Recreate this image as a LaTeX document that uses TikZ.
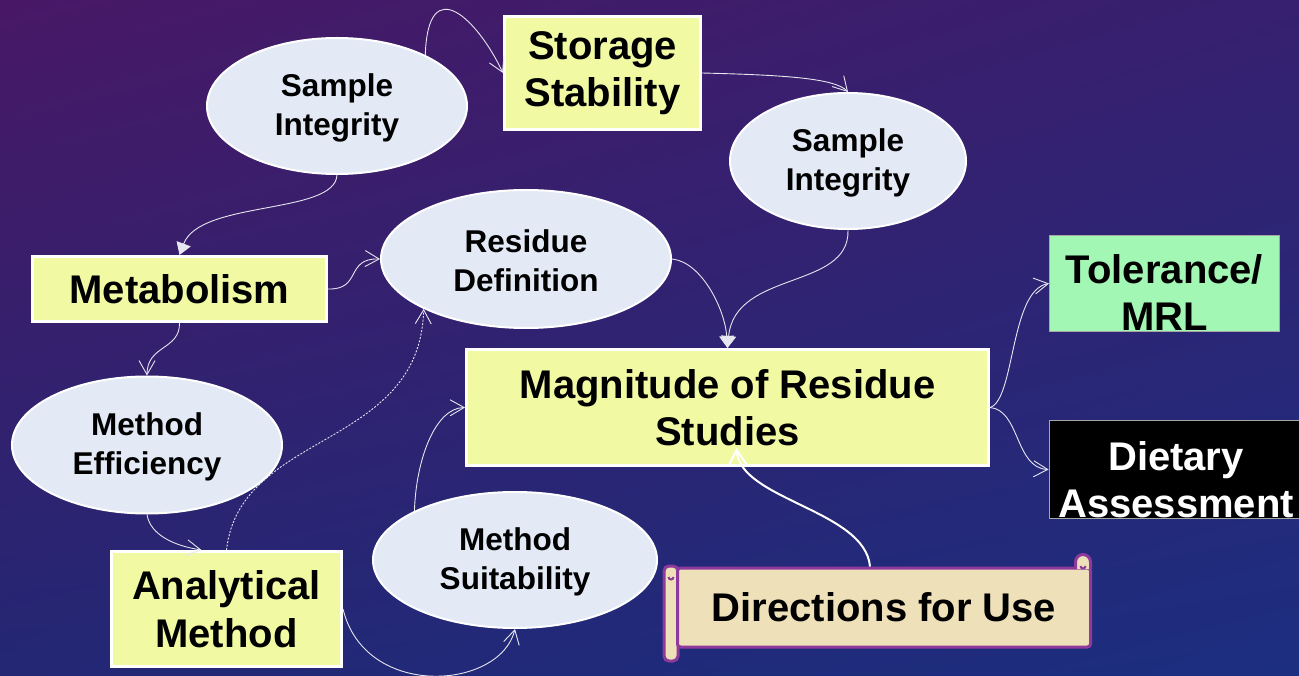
\documentclass[tikz,border=0pt]{standalone}
\usepackage{fontspec}
\setmainfont{Liberation Sans}
\usetikzlibrary{arrows.meta,shapes.geometric,shadings}

\definecolor{bgUL}{HTML}{481866}
\definecolor{bgUR}{HTML}{36206F}
\definecolor{bgLL}{HTML}{232774}
\definecolor{bgLR}{HTML}{1C2E80}
\definecolor{boxyellow}{HTML}{F1F9A3}
\definecolor{ovalblue}{HTML}{E3EAF6}
\definecolor{mrlgreen}{HTML}{A2F7B5}
\definecolor{parchment}{HTML}{EEE0B9}
\definecolor{scrollpurple}{HTML}{8E3A9C}
\definecolor{linkwhite}{HTML}{E6E6F0}

\begin{document}
\begin{tikzpicture}[x=1pt,y=-1pt,
  boxfont/.style={font=\fontsize{40}{47.5}\selectfont\bfseries},
  ovalfont/.style={font=\fontsize{31.5}{39}\selectfont\bfseries},
  yellowbox/.style={rectangle, fill=boxyellow, draw=white, line width=3pt,
    inner sep=0pt, align=center, boxfont, text=black},
  plainbox/.style={rectangle, draw=gray!70, line width=1pt, inner sep=0pt},
  boxtext/.style={align=center, boxfont, inner sep=0pt},
  oval/.style={ellipse, fill=ovalblue, draw=white, line width=2pt,
    inner sep=0pt, align=center, ovalfont, text=black},
  ovaltext/.style={align=center, ovalfont, inner sep=0pt, text=black},
  scrollline/.style={draw=scrollpurple, line width=3pt, fill=parchment},
  link/.style={draw=linkwhite, line width=0.9pt,
    -{Straight Barb[length=14pt,width=16pt]}},
  dottedlink/.style={link, dash pattern=on 2pt off 1.5pt},
  solidlink/.style={draw=linkwhite, line width=0.9pt,
    -{Triangle[length=12pt,width=15pt]}},
  boldlink/.style={draw=white, line width=2pt,
    -{Straight Barb[length=16pt,width=19pt]}}
]
% background
\useasboundingbox (0,0) rectangle (1299,676);
\shade[upper left=bgUL, upper right=bgUR, lower left=bgLL, lower right=bgLR]
  (0,0) rectangle (1299,676);

% yellow boxes
\node[yellowbox, minimum width=196pt, minimum height=113pt] (storage) at (602.5,73) {Storage\\Stability};
\node[yellowbox, minimum width=294pt, minimum height=65pt] (metab) at (179.5,289) {Metabolism};
\node[yellowbox, minimum width=522pt, minimum height=116pt] (mag) at (727.5,407.5) {Magnitude of Residue\\Studies};
\node[yellowbox, minimum width=230pt, minimum height=115pt] (anal) at (226.5,609) {Analytical\\Method};

% outcome boxes
\node[plainbox, fill=mrlgreen, minimum width=230pt, minimum height=96pt] (tol) at (1164.5,283.5) {};
\node[boxtext, text=black] (toltext) at ([yshift=-9pt]tol.center) {Tolerance/\\MRL};
\node[plainbox, fill=black, minimum width=254pt, minimum height=98pt] (diet) at (1176,469.5) {};
\node[boxtext, text=white] (diettext) at ([yshift=-10pt]diet.center) {Dietary\\Assessment};

% ovals
\node[oval, minimum width=260pt, minimum height=136pt] (si1) at (337,106) {};
\node[ovaltext] (si1text) at ([yshift=-2pt]si1.center) {Sample\\Integrity};
\node[oval, minimum width=236pt, minimum height=136pt] (si2) at (848,161) {};
\node[ovaltext] (si2text) at ([yshift=-2pt]si2.center) {Sample\\Integrity};
\node[oval, minimum width=290pt, minimum height=138pt] (resdef) at (526,259) {};
\node[ovaltext] (resdeftext) at ([yshift=-2pt]resdef.center) {Residue\\Definition};
\node[oval, minimum width=270pt, minimum height=137pt] (meteff) at (147,445) {};
\node[ovaltext] (mefftext) at ([yshift=-2pt]meteff.center) {Method\\Efficiency};
\node[oval, minimum width=284pt, minimum height=136pt] (metsuit) at (515,560) {};
\node[ovaltext] (msuittext) at ([yshift=-2pt]metsuit.center) {Method\\Suitability};

% scroll with rolled ends
\draw[scrollline, rounded corners=5pt] (664,566) rectangle (678,661);
\draw[scrollpurple, line width=2pt] (668.5,577) arc (180:360:2.5pt);
\node[scrollline, rounded corners=3pt, minimum width=413pt, minimum height=79pt,
  inner sep=0pt, boxfont, text=black] (dir) at (884,607.5) {Directions for Use};
\draw[scrollline] (1090.5,569) -- (1090.5,562) arc (0:180:7.5pt) -- (1075.5,569);
\draw[scrollpurple, line width=2pt] (1080.5,566) arc (180:360:2.5pt);

% connectors
\draw[link] (si1.30) .. controls (428,-30) and (478,20) .. (storage.west);
\draw[link] (storage.east) .. controls (782,75) and (835,78) .. (si2.north);
\draw[solidlink] (si1.south) .. controls (335,215) and (200,200) .. (metab.north);
\draw[link] (metab.east) .. controls (362,290) and (345,258) .. (resdef.west);
\draw[link] (metab.south) .. controls (180,350) and (147,345) .. (meteff.north);
\draw[link] (meteff.south) .. controls (150,535) and (175,546) .. ([xshift=-25pt]anal.north);
\draw[dottedlink] (anal.north) .. controls (240,430) and (420,450) .. (resdef.206);
\draw[link] (anal.east) .. controls (365,700) and (500,690) .. (metsuit.south);
\draw[link] (metsuit.154) .. controls (416,460) and (435,408) .. (mag.west);
\draw[solidlink] (resdef.east) .. controls (702,262) and (725,310) .. (mag.north);
\draw[solidlink] (si2.south) .. controls (850,290) and (735,270) .. (mag.north);
\draw[boldlink] ([xshift=-14pt]dir.north) .. controls (865,510) and (740,500) .. ([xshift=9pt,yshift=19pt]mag.south);
\draw[link] (mag.east) .. controls (1015,400) and (1010,290) .. (tol.west);
\draw[link] (mag.east) .. controls (1020,410) and (1015,468) .. (diet.west);
\end{tikzpicture}
\end{document}
